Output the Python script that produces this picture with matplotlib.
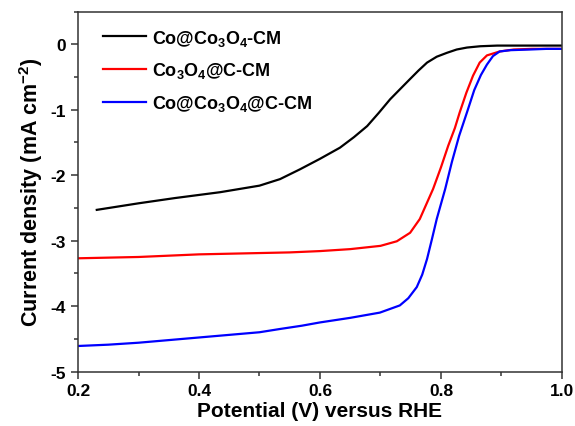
import matplotlib
matplotlib.use("Agg")
import matplotlib.pyplot as plt
from matplotlib.ticker import MultipleLocator

plt.rcParams["font.family"] = ["Liberation Sans", "DejaVu Sans"]
plt.rcParams["font.weight"] = "bold"
plt.rcParams["mathtext.fontset"] = "custom"
plt.rcParams["mathtext.rm"] = "Liberation Sans:bold"
plt.rcParams["mathtext.it"] = "Liberation Sans:bold"
plt.rcParams["mathtext.bf"] = "Liberation Sans:bold"

# Co@Co3O4-CM
black_x = [0.231, 0.30, 0.36, 0.435, 0.50, 0.534, 0.567, 0.60, 0.633, 0.656, 0.678,
           0.697, 0.716, 0.733, 0.749, 0.763, 0.777, 0.793, 0.810, 0.826, 0.843,
           0.865, 0.893, 0.93, 0.97, 1.0]
black_y = [-2.53, -2.43, -2.35, -2.26, -2.16, -2.06, -1.91, -1.75, -1.58, -1.42, -1.25,
           -1.05, -0.84, -0.68, -0.53, -0.40, -0.28, -0.19, -0.13, -0.08, -0.05,
           -0.03, -0.02, -0.02, -0.02, -0.02]

# Co3O4@C-CM
red_x = [0.2, 0.25, 0.30, 0.35, 0.40, 0.45, 0.50, 0.55, 0.60, 0.65, 0.70, 0.727,
         0.749, 0.765, 0.787, 0.800, 0.812, 0.823, 0.831, 0.842, 0.853, 0.864,
         0.876, 0.897, 0.92, 0.95, 0.97, 1.0]
red_y = [-3.27, -3.26, -3.25, -3.23, -3.21, -3.20, -3.19, -3.18, -3.16, -3.13, -3.08, -3.01,
         -2.88, -2.67, -2.21, -1.88, -1.55, -1.28, -1.04, -0.74, -0.48, -0.28,
         -0.17, -0.11, -0.08, -0.07, -0.07, -0.07]

# Co@Co3O4@C-CM
blue_x = [0.2, 0.25, 0.30, 0.35, 0.40, 0.45, 0.50, 0.534, 0.57, 0.60, 0.65, 0.699,
          0.732, 0.746, 0.760, 0.769, 0.777, 0.785, 0.793, 0.807, 0.818, 0.830,
          0.843, 0.855, 0.866, 0.876, 0.886, 0.897, 0.915, 0.947, 0.975, 1.0]
blue_y = [-4.61, -4.59, -4.56, -4.52, -4.48, -4.44, -4.40, -4.35, -4.30, -4.25, -4.18, -4.10,
          -3.99, -3.88, -3.71, -3.52, -3.28, -2.98, -2.67, -2.21, -1.80, -1.40,
          -1.04, -0.70, -0.47, -0.31, -0.18, -0.11, -0.09, -0.08, -0.07, -0.07]

labels = [r"Co@Co$_3$O$_4$-CM", r"Co$_3$O$_4$@C-CM", r"Co@Co$_3$O$_4$@C-CM"]

fig = plt.figure(figsize=(5.75, 4.27), dpi=100)
ax = fig.add_axes([0.1357, 0.1276, 0.8416, 0.843])

ax.plot(black_x, black_y, color="black", lw=1.6, label=labels[0])
ax.plot(red_x, red_y, color="#ff0000", lw=1.6, label=labels[1])
ax.plot(blue_x, blue_y, color="#0000ff", lw=1.6, label=labels[2])

ax.set_xlim(0.2, 1.0)
ax.set_ylim(-5, 0.5)
ax.xaxis.set_major_locator(MultipleLocator(0.2))
ax.xaxis.set_minor_locator(MultipleLocator(0.1))
ax.yaxis.set_major_locator(MultipleLocator(1))
ax.yaxis.set_minor_locator(MultipleLocator(0.5))
ax.xaxis.set_major_formatter(plt.FuncFormatter(lambda v, p: f"{v:.1f}"))
ax.yaxis.set_major_formatter(plt.FuncFormatter(lambda v, p: f"{v:.0f}"))
ax.tick_params(which="major", direction="out", length=5, width=1.1, labelsize=12.5,
               top=False, right=False, color="#333333")
ax.tick_params(which="minor", direction="out", length=3, width=1.1,
               top=False, right=False, color="#333333")
for s in ax.spines.values():
    s.set_linewidth(1.1)
    s.set_color("#333333")

ax.set_xlabel("Potential (V) versus RHE", fontsize=15, fontweight="bold", labelpad=2)
ax.set_ylabel(r"Current density (mA cm$^{-2}$)", fontsize=15.5, fontweight="bold", labelpad=4)

leg = ax.legend(loc="upper left", frameon=False, fontsize=13, handlelength=2.4,
                handletextpad=0.3, labelspacing=0.7, borderaxespad=0.3,
                bbox_to_anchor=(0.025, 0.99))

fig.savefig("out.png", dpi=100)
